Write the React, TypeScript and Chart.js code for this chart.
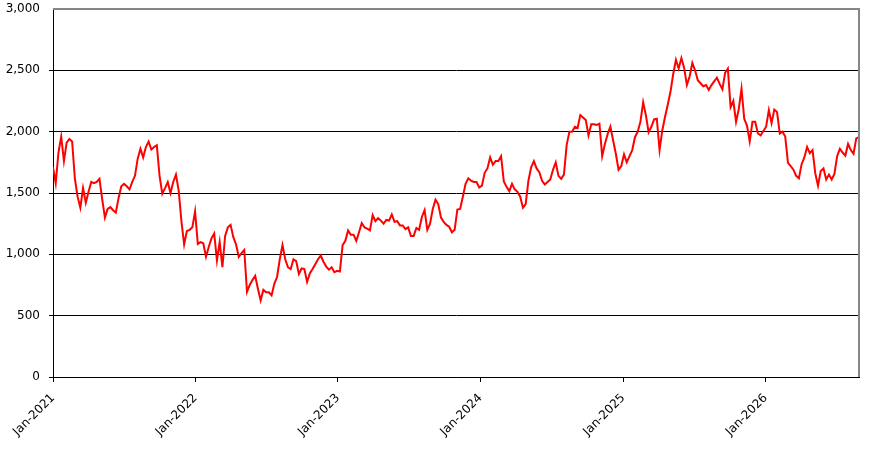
import React from 'react'
import { Chart, registerables } from 'chart.js'

Chart.register(...registerables)

// weekly closes, first week of Jan-2021 onwards
const startDate = Date.UTC(2021, 0, 1)
const stepDays = 7

const weeklyValues = [
  1710, 1580, 1830, 1960, 1760, 1910, 1940, 1920, 1620, 1470,
  1380, 1540, 1420, 1510, 1590, 1580, 1590, 1615, 1450, 1300,
  1370, 1385, 1360, 1340, 1460, 1555, 1575, 1555, 1530, 1590,
  1640, 1780, 1860, 1790, 1875, 1920, 1855, 1875, 1890, 1640,
  1495, 1540, 1590, 1500, 1590, 1650, 1520, 1270, 1080, 1190,
  1200, 1220, 1350, 1085, 1100, 1090, 980, 1060, 1130, 1170,
  950, 1100, 895, 1150, 1220, 1240, 1140, 1080, 980, 1010,
  1035, 695, 750, 790, 825, 720, 625, 710, 690, 690,
  665, 760, 815, 960, 1075, 960, 895, 880, 960, 945,
  840, 885, 880, 775, 845, 880, 920, 960, 990, 940,
  900, 875, 895, 855, 865, 860, 1075, 1110, 1195, 1160,
  1160, 1110, 1180, 1255, 1220, 1210, 1195, 1320, 1270, 1295,
  1275, 1250, 1280, 1275, 1325, 1265, 1270, 1235, 1235, 1205,
  1220, 1150, 1150, 1215, 1200, 1305, 1360, 1200, 1250, 1370,
  1445, 1410, 1300, 1265, 1240, 1225, 1180, 1200, 1365, 1370,
  1470, 1575, 1620, 1600, 1590, 1590, 1545, 1560, 1665, 1700,
  1790, 1730, 1760, 1760, 1800, 1595, 1550, 1515, 1575, 1530,
  1510, 1470, 1380, 1410, 1600, 1710, 1760, 1700, 1670, 1600,
  1570, 1590, 1610, 1690, 1750, 1640, 1615, 1650, 1890, 2000,
  2000, 2040, 2030, 2135, 2115, 2095, 1970, 2060, 2060, 2055,
  2065, 1800, 1900, 1980, 2040, 1930, 1820, 1690, 1720, 1815,
  1750, 1800, 1850, 1955, 2000, 2080, 2240, 2135, 1995, 2040,
  2100, 2105, 1850, 2010, 2120, 2220, 2325, 2470, 2585, 2515,
  2600, 2520, 2380, 2450, 2560, 2500, 2420, 2395, 2370, 2380,
  2340, 2380, 2410, 2440, 2390, 2345, 2480, 2515, 2200, 2250,
  2080, 2185, 2350, 2105, 2050, 1920, 2080, 2080, 1985, 1970,
  2005, 2040, 2175, 2070, 2180, 2160, 1985, 2000, 1960, 1745,
  1720, 1690, 1640, 1620, 1735, 1790, 1875, 1825, 1850, 1660,
  1560, 1680, 1700, 1610, 1650, 1610, 1655, 1800, 1860, 1830,
  1805, 1900, 1850, 1820, 1945, 1955,
]

const tickYears = [2021, 2022, 2023, 2024, 2025, 2026]
const tickLabels = ['Jan-2021', 'Jan-2022', 'Jan-2023', 'Jan-2024', 'Jan-2025', 'Jan-2026']

const yMax = 3000
const yStep = 500

const dayOfYearStart = (y: number) => (Date.UTC(y, 0, 1) - startDate) / 86400000

// grey frame on top and right, like the spreadsheet plot area
const framePlugin = {
  id: 'frame',
  afterDraw(chart: any) {
    const { ctx, chartArea: a } = chart
    ctx.save()
    ctx.strokeStyle = '#868686'
    ctx.lineWidth = 2
    ctx.beginPath()
    ctx.moveTo(a.left, a.top)
    ctx.lineTo(a.right, a.top)
    ctx.lineTo(a.right, a.bottom)
    ctx.stroke()
    ctx.restore()
  },
}

const PriceChart = () => {
  const ref = React.useRef<HTMLCanvasElement | null>(null)

  React.useEffect(() => {
    if (!ref.current) return
    const font = { family: 'DejaVu Sans', size: 12 }
    const chart = new Chart(ref.current, {
      type: 'line',
      data: {
        datasets: [
          {
            data: weeklyValues.map((v, i) => ({ x: i * stepDays, y: v })),
            borderColor: '#ff0000',
            borderWidth: 2,
            pointRadius: 0,
            tension: 0,
          },
        ],
      },
      options: {
        animation: false,
        responsive: false,
        layout: { padding: { top: 9, right: 24, left: 0, bottom: 0 } },
        plugins: { legend: { display: false }, tooltip: { enabled: false } },
        scales: {
          x: {
            type: 'linear',
            min: 0,
            max: (weeklyValues.length - 1) * stepDays,
            afterBuildTicks: (scale: any) => {
              scale.ticks = tickYears.map((y) => ({ value: dayOfYearStart(y) }))
            },
            afterFit: (scale: any) => {
              scale.height = 72
              scale.paddingLeft = 0
              scale.paddingRight = 0
            },
            ticks: {
              autoSkip: false,
              maxRotation: 45,
              minRotation: 45,
              color: '#000',
              font,
              padding: 9,
              callback: (_v: any, i: number) => tickLabels[i],
            },
            grid: { drawOnChartArea: false, drawTicks: true, tickLength: 5, color: '#000' },
            border: { color: '#000', width: 1 },
          },
          y: {
            min: 0,
            max: yMax,
            afterFit: (scale: any) => {
              scale.width = 53
              scale.paddingTop = 0
              scale.paddingBottom = 0
            },
            ticks: {
              stepSize: yStep,
              color: '#000',
              font,
              padding: 9,
              callback: (v: any) => Number(v).toLocaleString('en-US'),
            },
            grid: {
              color: (c: any) => (c.tick && c.tick.value === yMax ? 'rgba(0,0,0,0)' : '#000'),
              tickLength: 4,
              lineWidth: 1,
            },
            border: { color: '#000', width: 1 },
          },
        },
      },
      plugins: [framePlugin],
    })
    return () => {
      chart.destroy()
    }
  }, [])

  return <canvas ref={ref} width={883} height={449} style={{ display: 'block' }}></canvas>
}

const App = () => (
  <div style={{ position: 'fixed', left: 0, top: 0, width: 883, height: 449, background: '#fff' }}>
    <PriceChart />
  </div>
)

export default App
